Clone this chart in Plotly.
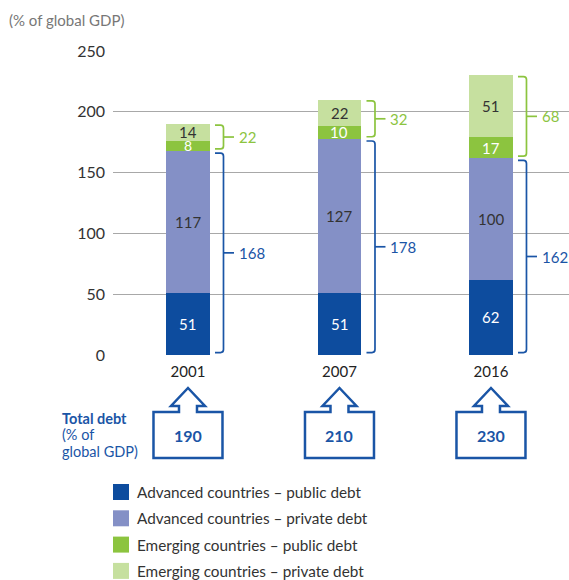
import plotly.graph_objects as go

years = ["2001", "2007", "2016"]
adv_public = [51, 51, 62]
adv_private = [117, 127, 100]
emg_public = [8, 10, 17]
emg_private = [14, 22, 51]
adv_total = [168, 178, 162]
emg_total = [22, 32, 68]
total_debt = [190, 210, 230]
series_names = ["Advanced countries – public debt", "Advanced countries – private debt",
                "Emerging countries – public debt", "Emerging countries – private debt"]
colors = ["#0d4c9e", "#8490c6", "#8cc43f", "#c6e09f"]
label_colors = ["white", "#333333", "white", "#333333"]
y_ticks = [0, 50, 100, 150, 200, 250]

FONT = "Lato"
BLUE = "#1a55a6"
GREEN = "#8cc43f"
W, H = 569, 580
ML, MR, MT, MB = 113, 0, 51, 225
PW, PH = W - ML - MR, H - MT - MB
XR = [-0.495, 2.515]
YR = [0, 250]
BW = 0.29

xs = list(range(len(years)))
fig = go.Figure()
series = [adv_public, adv_private, emg_public, emg_private]
for name, vals, c in zip(series_names, series, colors):
    fig.add_trace(go.Bar(x=xs, y=vals, name=name, marker=dict(color=c, line=dict(width=0)),
                         width=BW, showlegend=False, hoverinfo="skip"))

def px_x(x):
    return (x - XR[0]) / (XR[1] - XR[0]) * PW + ML

def paper_x(px):
    return (px - ML) / PW

def paper_y(py):
    return (MT + PH - py) / PH

annotations = []
shapes = []

def ann(**kw):
    kw.setdefault("xanchor", "center")
    kw.setdefault("yanchor", "middle")
    kw.setdefault("showarrow", False)
    annotations.append(kw)

# segment labels
for i in xs:
    base = 0
    for vals, lc in zip(series, label_colors):
        v = vals[i]
        size = 15 if v >= 10 else 14
        ann(x=i, y=base + v / 2, xref="x", yref="y", text=str(v),
            font=dict(family=FONT, size=size, color=lc))
        base += v

# brackets
ppu = PW / (XR[1] - XR[0])
def bracket(i, y0, y1, color, label):
    xv = i + 35.5 / ppu
    xh = i + 27 / ppu
    xm = i + 46 / ppu
    r = 3
    ry = r / (PH / (YR[1] - YR[0]))
    rx = r / ppu
    path = (f"M {xh},{y1} L {xv-rx},{y1} Q {xv},{y1} {xv},{y1-ry} "
            f"L {xv},{y0+ry} Q {xv},{y0} {xv-rx},{y0} L {xh},{y0}")
    shapes.append(dict(type="path", path=path, xref="x", yref="y", line=dict(color=color, width=1.7)))
    ym = (y0 + y1) / 2
    shapes.append(dict(type="line", x0=xv, x1=xm, y0=ym, y1=ym, xref="x", yref="y",
                       line=dict(color=color, width=1.7)))
    ann(x=xm + 3 / ppu, y=ym, xref="x", yref="y", text=str(label), xanchor="left",
        font=dict(family=FONT, size=15, color=color))

for i in xs:
    a = adv_total[i]
    e = emg_total[i]
    bracket(i, 2, a - 2, BLUE, a)
    bracket(i, a + 1.5, a + e - 1, GREEN, e)

# arrow boxes
yb = MT + PH
for i in xs:
    cx = px_x(i)
    pts = [(cx - 34.5, yb + 57), (cx - 9, yb + 57), (cx - 9, yb + 51), (cx - 17, yb + 51),
           (cx, yb + 33), (cx + 17, yb + 51), (cx + 9, yb + 51), (cx + 9, yb + 57),
           (cx + 34.5, yb + 57), (cx + 34.5, yb + 103), (cx - 34.5, yb + 103)]
    path = "M " + " L ".join(f"{paper_x(px)},{paper_y(py)}" for px, py in pts) + " Z"
    shapes.append(dict(type="path", path=path, xref="paper", yref="paper",
                       line=dict(color=BLUE, width=2.5)))
    ann(x=paper_x(cx), y=paper_y(yb + 80), xref="paper", yref="paper",
        text=f"<b>{total_debt[i]}</b>", font=dict(family=FONT, size=16, color=BLUE))

for k, t in enumerate(["<b>Total debt</b>", "(% of", "global GDP)"]):
    ann(x=paper_x(61), y=paper_y(yb + 63 + k * 16.5), xref="paper", yref="paper",
        xanchor="left", text=t, borderpad=0, font=dict(family=FONT, size=14.5, color=BLUE))

# subtitle
ann(x=paper_x(7), y=paper_y(20), xref="paper", yref="paper",
    xanchor="left", text="(% of global GDP)", font=dict(family=FONT, size=15, color="#777777"))

# legend
for k, (name, c) in enumerate(zip(series_names, colors)):
    yc = 492 + k * 26.3
    shapes.append(dict(type="rect", xref="paper", yref="paper",
                       x0=paper_x(113), x1=paper_x(129), y0=paper_y(yc - 8), y1=paper_y(yc + 8),
                       fillcolor=c, line=dict(width=0)))
    ann(x=paper_x(135), y=paper_y(yc), xref="paper", yref="paper",
        xanchor="left", text=name, font=dict(family=FONT, size=15.3, color="#333333"))

fig.update_layout(
    width=W, height=H, margin=dict(l=ML, r=MR, t=MT, b=MB, pad=0),
    barmode="stack", plot_bgcolor="white", paper_bgcolor="white",
    annotations=annotations, shapes=shapes,
    xaxis=dict(range=XR, tickvals=xs, ticktext=years, showgrid=False, zeroline=False,
               showline=False, ticks="", tickfont=dict(family=FONT, size=15, color="#222222"),
               ticklabelstandoff=6, fixedrange=True),
    yaxis=dict(range=YR, tickvals=y_ticks, showgrid=True, gridcolor="#a8a8a8", gridwidth=1,
               zeroline=True, zerolinecolor="rgba(0,0,0,0)", showline=False, ticks="",
               tickfont=dict(family=FONT, size=16, color="#333333"), ticklabelstandoff=7,
               fixedrange=True),
)

fig.write_html("out.html", post_script="document.body.style.margin='0';",
               config={"displayModeBar": False})
